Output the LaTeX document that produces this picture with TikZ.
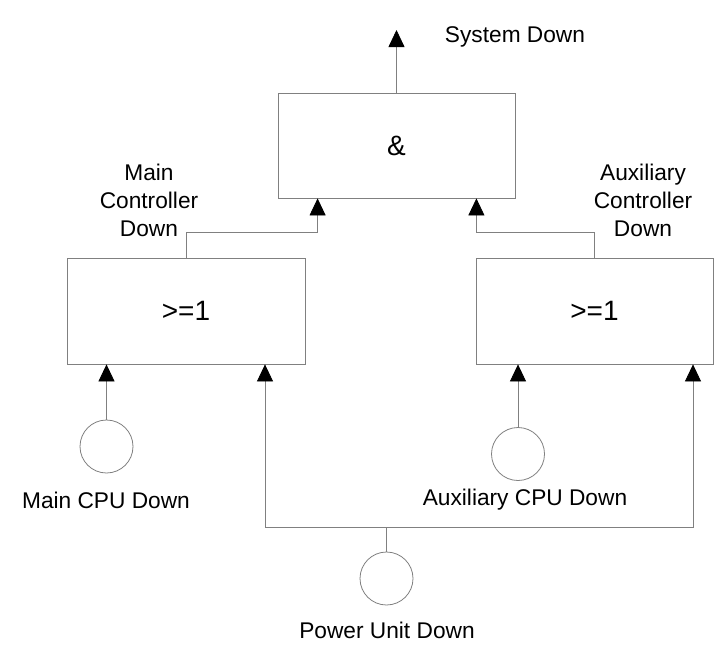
\documentclass[tikz,border=0pt]{standalone}
\usepackage{fontspec}
\setmainfont{Liberation Sans}
\usepackage{tikz}
\usetikzlibrary{arrows.meta}
\usetikzlibrary{calc, positioning}
\tikzstyle{gate}=[rectangle, draw=gray, line width=0.8pt, font=\fontsize{28pt}{30pt}\selectfont]
\tikzstyle{event}=[circle, draw=gray, line width=0.8pt, minimum size=53pt, inner sep=0pt]
\tikzstyle{evlabel}=[align=center, inner sep=0pt]
\tikzstyle{wire}=[draw=gray, line width=0.8pt]

\begin{document}
\begin{tikzpicture}[x=1pt, y=-1pt]

\tikzset{>={Triangle[length=17pt, width=16pt, color=black]}}
\tikzset{every node/.style={font=\fontsize{22.7pt}{28pt}\selectfont}}

\useasboundingbox (0,0) rectangle (720,659);

% Gates
\node[gate, minimum width=237pt, minimum height=105pt] (andgate) at (396.5,145.5) {\&};
\node[gate, minimum width=238pt, minimum height=106pt] (orMain) at (186,311) {>=1};
\node[gate, minimum width=237pt, minimum height=106pt] (orAux) at (594.5,311) {>=1};

% Basic events
\node[event] (mainCPU) at (106.5,446.5) {};
\node[event] (auxCPU) at (518,454) {};
\node[event] (power) at (386.5,578.5) {};

% Labels
\node[evlabel] (toplbl) at (515,37) {System Down};
\node[evlabel] (mainlbl) at (149,200) {Main\\Controller\\Down};
\node[evlabel] (auxlbl) at (643,200) {Auxiliary\\Controller\\Down};
\node[evlabel] (mainCPUlbl) at (106,500) {Main CPU Down};
\node[evlabel] (auxCPUlbl) at (525,500) {Auxiliary CPU Down};
\node[evlabel] (powerlbl) at (387,630) {Power Unit Down};

\coordinate (sysout) at (396.5,30);
\coordinate (busL) at (265,527);
\coordinate (busR) at (693,527);

\draw[wire, ->] (andgate.north) -- (sysout); % & -> system down
\draw[wire, ->] (orMain.north) -- ++(0,-25) -| ([xshift=40pt]andgate.south west); % main ctrl -> &
\draw[wire, ->] (orAux.north) -- ++(0,-25) -| ([xshift=-39pt]andgate.south east); % aux ctrl -> &
\draw[wire, ->] (mainCPU) -- (mainCPU |- orMain.south); % main cpu
\draw[wire, ->] (auxCPU) -- (auxCPU |- orAux.south); % aux cpu
\draw[wire] (power) -- (power |- busL); % power unit
\draw[wire, <->] (busL |- orMain.south) -- (busL) -- (busR) -- (busR |- orAux.south); % power -> both

\end{tikzpicture}
\end{document}
